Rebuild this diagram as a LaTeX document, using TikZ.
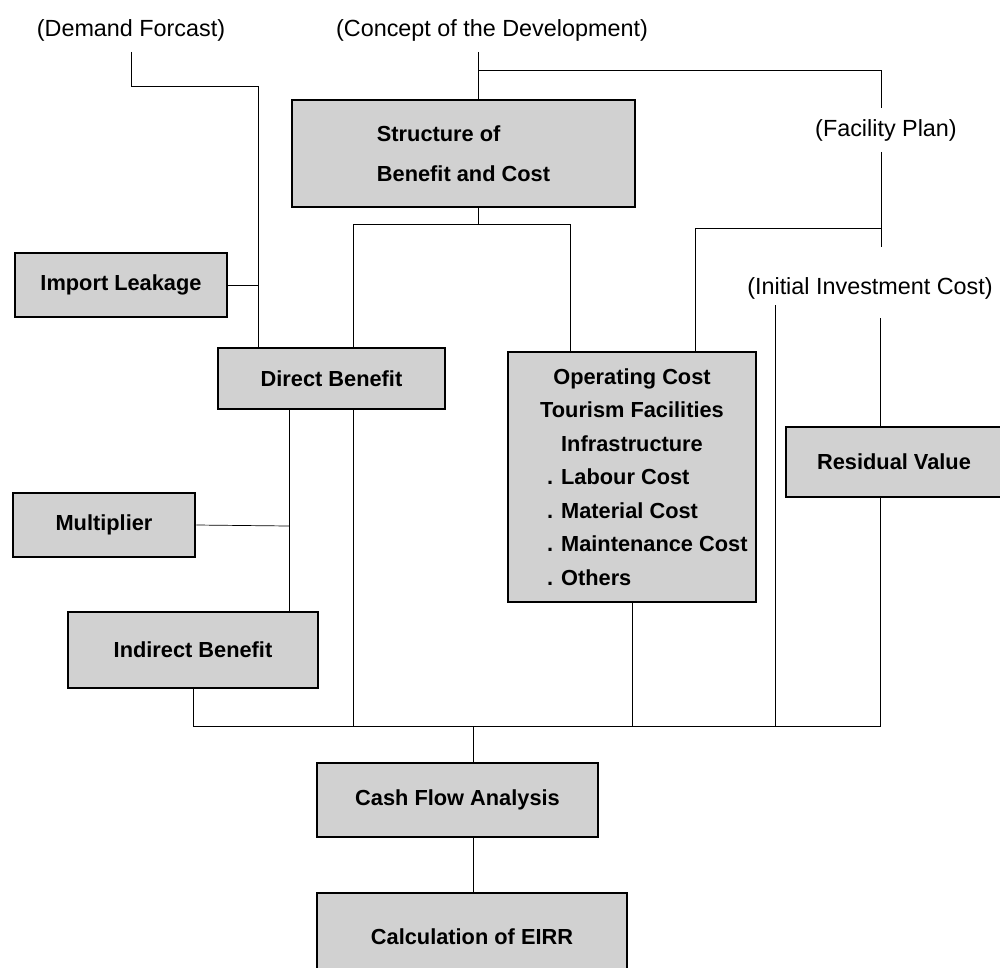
\documentclass[tikz,border=0pt]{standalone}
\usepackage{fontspec}
\setmainfont{Liberation Sans}
\usetikzlibrary{backgrounds}

\tikzset{
  box/.style={draw, line width=1.5pt, fill=black!18, inner sep=0pt,
    font=\bfseries\fontsize{12.4}{14}\selectfont},
  source/.style={inner sep=6pt, font=\fontsize{13.3}{16}\selectfont},
  link/.style={line width=1.4pt}
}

\begin{document}
\begin{tikzpicture}[x=0.02cm, y=-0.02cm]
        \useasboundingbox (0,0) rectangle (1000,967);
        \clip (0,0) rectangle (1000,967);

        \node[source] (demand) at (131,30) {(Demand Forcast)};
        \node[source] (concept) at (492,30) {(Concept of the Development)};
        \node[source] (facility) at (886,130) {(Facility Plan)};
        \node[source] (invest) at (870,288) {(Initial Investment Cost)};

        \node[box, minimum width=6.86cm, minimum height=2.14cm, align=left,
          font=\bfseries\fontsize{12.4}{22.7}\selectfont] (struct) at (463.5,153.5)
          {Structure of\\Benefit and Cost};
        \node[box, minimum width=4.24cm, minimum height=1.28cm] (import) at (121,285) {Import Leakage};
        \node[box, minimum width=4.54cm, minimum height=1.22cm] (direct) at (331.5,378.5) {Direct Benefit};
        \node[box, minimum width=3.64cm, minimum height=1.28cm] (multiplier) at (104,525) {Multiplier};
        \node[box, minimum width=5.0cm, minimum height=1.52cm] (indirect) at (193,650) {Indirect Benefit};
        \node[box, minimum width=4.96cm, minimum height=5.0cm, align=center,
          font=\bfseries\fontsize{12.4}{19.1}\selectfont] (operating) at (632,477)
          {Operating Cost\\Tourism Facilities\\Infrastructure\\
           \makebox[3.4cm][l]{. Labour Cost}\\
           \makebox[3.4cm][l]{. Material Cost}\\
           \makebox[3.4cm][l]{. Maintenance Cost}\\
           \makebox[3.4cm][l]{. Others}};
        \node[box, minimum width=4.32cm, minimum height=1.4cm] (residual) at (894,462) {Residual Value};
        \node[box, minimum width=5.62cm, minimum height=1.48cm] (cash) at (457.5,800) {Cash Flow Analysis};
        \node[box, minimum width=6.2cm, minimum height=1.76cm] (calc) at (472,937) {Calculation of EIRR};

        \coordinate (dj) at (258,86);
        \coordinate (cj) at (478,70);
        \coordinate (ftop) at (881,70);
        \coordinate (fend) at (881,247);
        \coordinate (oj) at (881,228);
        \coordinate (oc) at (695,228);
        \coordinate (sj) at (478,224);
        \coordinate (sl) at (353,224);
        \coordinate (sr) at (570,224);
        \coordinate (iv) at (775,305);
        \coordinate (rt) at (880,318);
        \coordinate (dm) at (289,526);
        \coordinate (bus) at (881,726);
        \coordinate (cb) at (473,726);

        \begin{scope}[on background layer, link]
                \draw (demand.south) |- (dj);
                \draw (dj) -- (direct.north -| dj);
                \draw (import.east) -- (import.east -| dj);
                \draw (concept.south -| cj) -- (struct.north -| cj);
                \draw (cj) -- (ftop);
                \draw (ftop) -- (facility.north -| ftop);
                \draw (facility.south -| ftop) -- (fend);
                \draw (oj) -- (oc);
                \draw (oc) -- (operating.north -| oc);
                \draw (struct.south -| sj) -- (sj);
                \draw (sl) -- (sr);
                \draw (sr) -- (operating.north -| sr);
                \draw (sl) -- (sl |- bus);
                \draw (iv) -- (iv |- bus);
                \draw (rt) -- (residual.north -| rt);
                \draw (residual.south -| rt) -- (rt |- bus);
                \draw (operating.south) -- (operating.south |- bus);
                \draw (direct.south -| dm) -- (indirect.north -| dm);
                \draw (multiplier.east) -- (dm);
                \draw (indirect.south) |- (bus);
                \draw (cb) -- (cash.north -| cb);
                \draw (cash.south -| cb) -- (calc.north -| cb);
        \end{scope}
\end{tikzpicture}
\end{document}
